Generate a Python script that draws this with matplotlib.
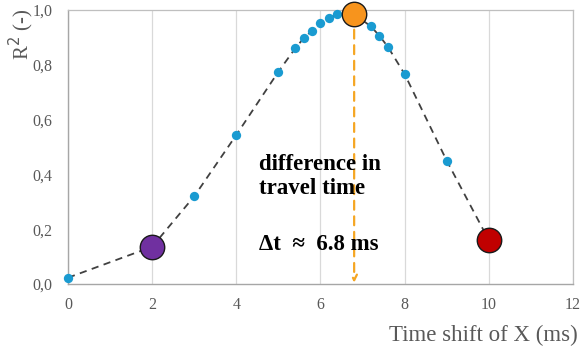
import matplotlib
matplotlib.use("Agg")
import matplotlib.pyplot as plt

# Data
x_vals = [0, 2, 3, 4, 5, 5.4, 5.6, 5.8, 6.0, 6.2, 6.4, 6.8, 7.2, 7.4, 7.6, 8, 9, 10]
r2_vals = [0.023, 0.136, 0.32, 0.544, 0.775, 0.86, 0.897, 0.925, 0.951, 0.97, 0.985, 0.985,
           0.94, 0.906, 0.866, 0.766, 0.45, 0.16]
blue_x = [0, 3, 4, 5, 5.4, 5.6, 5.8, 6.0, 6.2, 6.4, 7.2, 7.4, 7.6, 8, 9]
blue_y = [0.023, 0.32, 0.544, 0.775, 0.86, 0.897, 0.925, 0.951, 0.97, 0.985, 0.94, 0.906, 0.866, 0.766, 0.45]
purple_pt = (2, 0.136)
orange_pt = (6.8, 0.985)
red_pt = (10, 0.16)
x_ticks = [0, 2, 4, 6, 8, 10, 12]
y_ticks = [0.0, 0.2, 0.4, 0.6, 0.8, 1.0]
y_ticklabels = ["0,0", "0,2", "0,4", "0,6", "0,8", "1,0"]

serif = ["Liberation Serif", "DejaVu Serif"]
gray = "#595959"

fig = plt.figure(figsize=(5.82, 3.49), dpi=100)
ax = fig.add_axes([0.1168, 0.1862, 0.8677, 0.7851])
ax.set_xlim(0, 12)
ax.set_ylim(0, 1.0)

ax.set_xticks(x_ticks)
ax.set_xticklabels([str(t) for t in x_ticks], family=serif, color=gray, fontsize=11.5)
ax.set_yticks(y_ticks)
ax.set_yticklabels(y_ticklabels, family=serif, color=gray, fontsize=11.5)
ax.tick_params(axis="y", length=0, pad=11)
ax.tick_params(axis="x", length=0, pad=9)
ax.grid(axis="x", color="#d9d9d9", linewidth=0.9)
ax.set_axisbelow(True)
for s in ["top", "right"]:
    ax.spines[s].set_color("#bfbfbf")
    ax.spines[s].set_linewidth(0.9)
for s in ["left", "bottom"]:
    ax.spines[s].set_color("#a6a6a6")
    ax.spines[s].set_linewidth(1.0)

ax.plot(x_vals, r2_vals, linestyle=(0, (4, 3)), color="#404040", linewidth=1.3, zorder=2)
ax.scatter(blue_x, blue_y, s=45, color="#1a9bd1", zorder=3, linewidths=0, clip_on=False)

# vertical arrow
ax.annotate("", xy=(orange_pt[0], 0.005), xytext=(orange_pt[0], orange_pt[1]),
            arrowprops=dict(arrowstyle="->", color="#f5a623", linestyle=(0, (4, 3)),
                            linewidth=1.6, shrinkA=0, shrinkB=0), zorder=2)

ax.scatter([purple_pt[0]], [purple_pt[1]], s=310, color="#7030a0", edgecolors="#1a1a1a",
           linewidths=1.0, zorder=4)
ax.scatter([orange_pt[0]], [orange_pt[1]], s=310, color="#f7941d", edgecolors="#1a1a1a",
           linewidths=1.0, zorder=4, clip_on=False)
ax.scatter([red_pt[0]], [red_pt[1]], s=310, color="#c00000", edgecolors="#1a1a1a",
           linewidths=1.0, zorder=4)

ax.text(4.55, 0.475, "difference in\ntravel time", family=serif, fontweight="bold",
        fontsize=16.5, color="black", va="top", ha="left", linespacing=1.2)
ax.text(4.55, 0.125, "\u0394t  \u2248  6.8 ms", family=serif, fontweight="bold",
        fontsize=16.5, color="black", va="baseline", ha="left")

fig.text(0.036, 0.9, "R$^2$ (-)", family=serif, color=gray, fontsize=15,
         rotation=90, ha="center", va="center")
fig.text(0.993, 0.04, "Time shift of X (ms)", family=serif, color=gray, fontsize=16.5,
         ha="right", va="center")

fig.savefig("out.png", dpi=100)
